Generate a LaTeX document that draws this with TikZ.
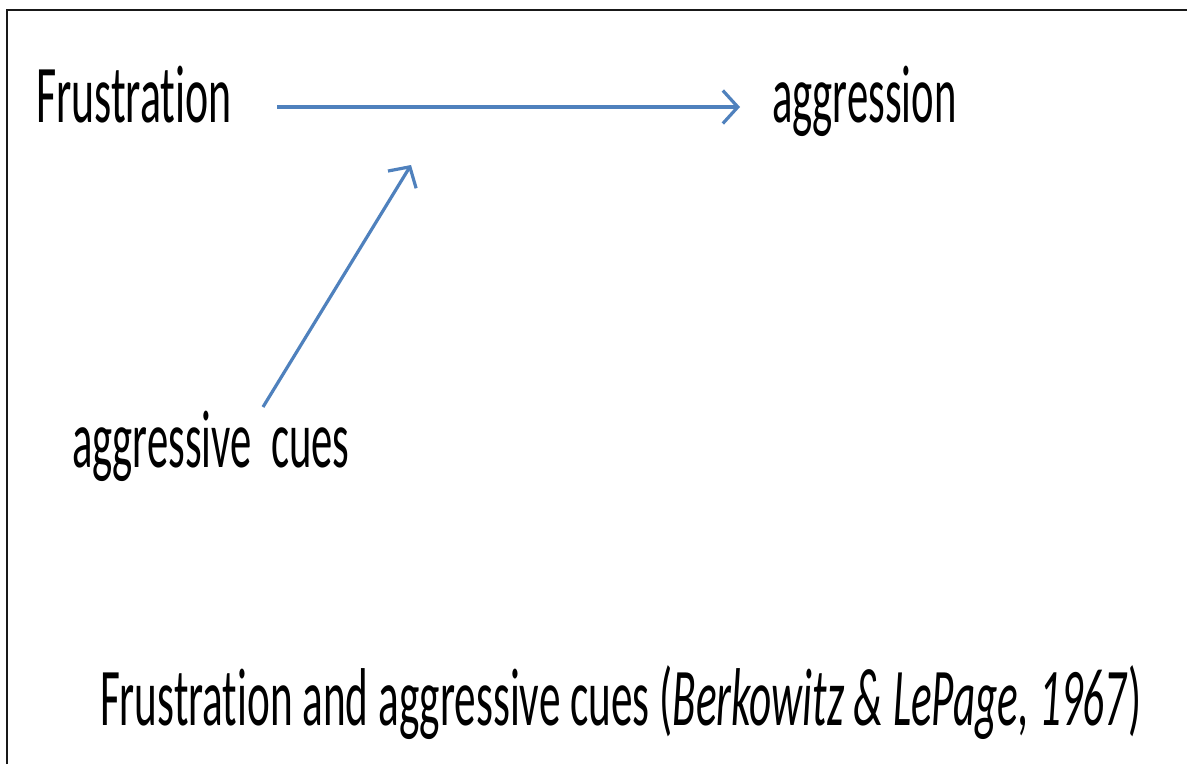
\documentclass[tikz,border=0pt]{standalone}
\usepackage{fontspec}
\usepackage{graphicx}
\setmainfont{Carlito}[Ligatures=NoCommon]
\usetikzlibrary{arrows.meta}
\definecolor{arrblue}{RGB}{79,129,189}
\newcommand{\sqz}[2][0.52]{\scalebox{#1}[1]{#2}}
\begin{document}
\begin{tikzpicture}[x=1pt,y=-1pt,
  lbl/.style={anchor=base west,inner sep=0pt,outer sep=0pt,font=\fontsize{82}{90}\selectfont},
  captxt/.style={anchor=base west,inner sep=0pt,outer sep=0pt,font=\fontsize{82}{90}\selectfont},
  arr/.style={draw=arrblue,line width=3.2pt,-{Straight Barb[length=15pt,width=33pt,line width=3.2pt]}}]
\useasboundingbox (0,0) rectangle (1187,764);
\fill[white] (0,0) rectangle (1187,764);
\draw[line width=2.6pt,black!90] (7,764) -- (7,10) -- (1187,10);
\node[lbl] (fr) at (36,122) {\sqz[0.535]{Frustration}};
\node[lbl] (ag) at (772,122) {\sqz{aggression}};
\node[lbl] (cues) at (72,467) {\sqz{aggressive\ \ cues}};
\node[captxt] (caption) at (100,725) {\sqz[0.527]{Frustration and aggressive cues (\textit{Berkowitz \& LePage, 1967})}};
\coordinate (h1) at (277,107);
\coordinate (h2) at (740,107);
\coordinate (d1) at (263,407);
\coordinate (d2) at (411,165);
\draw[arr] (h1) -- (h2);
\draw[arr] (d1) -- (d2);
\end{tikzpicture}
\end{document}
